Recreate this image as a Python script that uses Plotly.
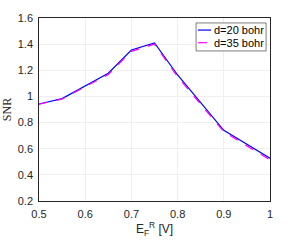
import plotly.graph_objects as go

x_vals = [0.5, 0.55, 0.65, 0.7, 0.75, 0.8, 0.9, 1.0]
snr_d20 = [0.942, 0.983, 1.177, 1.355, 1.41, 1.164, 0.741, 0.527]
snr_d35 = [0.940, 0.980, 1.168, 1.345, 1.400, 1.150, 0.730, 0.514]
names = ["d=20 bohr", "d=35 bohr"]
colors = ["#0000ff", "#ff00ff"]
dashes = ["solid", "dash"]
x_ticks = [0.5, 0.6, 0.7, 0.8, 0.9, 1.0]
x_tick_labels = ["0.5", "0.6", "0.7", "0.8", "0.9", "1"]
y_ticks = [0.2, 0.4, 0.6, 0.8, 1.0, 1.2, 1.4, 1.6]
y_tick_labels = ["0.2", "0.4", "0.6", "0.8", "1", "1.2", "1.4", "1.6"]

fig = go.Figure()
for ys, nm, c, d in zip([snr_d20, snr_d35], names, colors, dashes):
    fig.add_trace(go.Scatter(x=x_vals, y=ys, mode="lines", name=nm,
                             line=dict(color=c, width=1.2, dash=d), showlegend=False))

# manual compact legend (MATLAB style)
fig.add_shape(type="rect", xref="paper", yref="paper", x0=0.680, x1=0.983, y0=0.820, y1=0.973,
              line=dict(color="#262626", width=0.6), fillcolor="white", layer="above")
row_y = [0.934, 0.865]
for nm, c, d, yy in zip(names, colors, dashes, row_y):
    fig.add_shape(type="line", xref="paper", yref="paper", x0=0.688, x1=0.745, y0=yy, y1=yy,
                  line=dict(color=c, width=1.2, dash=d), layer="above")
    fig.add_annotation(xref="paper", yref="paper", x=0.749, y=yy, text=nm, showarrow=False,
                       xanchor="left", yanchor="middle",
                       font=dict(family="Liberation Sans, Arial", size=11, color="#000000"))

axis_common = dict(showline=True, linecolor="#262626", linewidth=0.6, mirror=True,
                   showgrid=True, gridcolor="#efefef", gridwidth=1, zeroline=False,
                   ticks="outside", ticklen=3, tickcolor="rgba(0,0,0,0)", automargin=False,
                   tickfont=dict(family="Liberation Sans, Arial", size=11, color="#262626"))

fig.update_layout(
    width=299, height=242,
    margin=dict(l=39, r=29, t=18, b=41),
    paper_bgcolor="white", plot_bgcolor="white",
    showlegend=False,
    xaxis=dict(range=[0.5, 1.0], tickvals=x_ticks, ticktext=x_tick_labels,
               title=dict(text="E<sub>F</sub><sup>R</sup> [V]", standoff=2,
                          font=dict(family="Liberation Sans, Arial", size=12, color="#262626")),
               **axis_common),
    yaxis=dict(range=[0.2, 1.6], tickvals=y_ticks, ticktext=y_tick_labels,
               title=dict(text="SNR", standoff=4,
                          font=dict(family="Liberation Serif, Times New Roman", size=12, color="#262626")),
               **axis_common),
)

fig.write_html("out.html", config={"displayModeBar": False},
               post_script="document.body.style.margin='0';")
